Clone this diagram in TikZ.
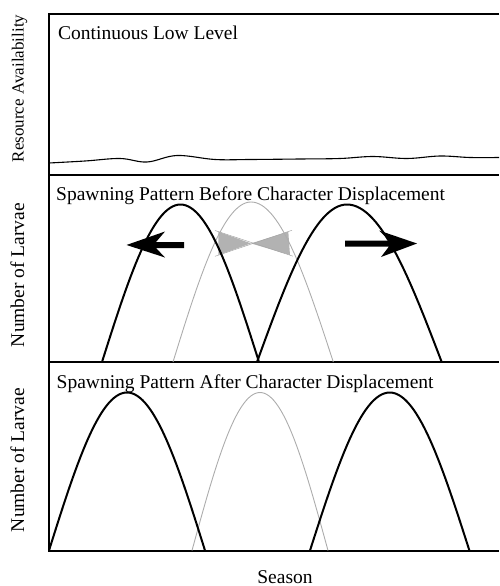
\documentclass[tikz,border=0pt]{standalone}
\usepackage{fontspec}
\setmainfont{Liberation Serif}
\begin{document}
\begin{tikzpicture}[x=1pt,y=-1pt,
  frame/.style={line width=1.3pt},
  blackcurve/.style={line width=2pt, line join=round},
  graycurve/.style={line width=0.9pt, gray!65},
  lbl/.style={font=\fontsize{19.5}{22}\selectfont, inner sep=0pt},
  arrowshape/.style={fill=black, draw=none},
  bowtie/.style={fill=gray!60},
  bowedge/.style={gray!70, line width=0.5pt}]
\useasboundingbox (0,0) rectangle (499,586);

% frame lines
\draw[frame] (499,14) -- (49,14) -- (49,551) -- (499,551);
\draw[frame] (49,175) -- (499,175);
\draw[frame] (49,362) -- (499,362);

% resource availability curve
\draw[line width=1.1pt] plot[smooth, tension=0.6] coordinates {(49,163) (85,161) (120,158.5) (147,162) (177,155.5) (215,159.5) (250,159.5) (300,159) (340,158.5) (373,156.5) (407,158.5) (440,156) (470,157.5) (499,157.5)};

% shaded overlap (bow tie)
\fill[bowtie] (218.3,231.7) -- (251,243.4) -- (288.3,231.7) -- (290,255) -- (251,243.4) -- (218.3,255) -- cycle;
\draw[bowedge] (215,230.5) -- (293,256.2);
\draw[bowedge] (215,256.3) -- (292,230.3);

% middle panel curves
\draw[graycurve] plot[domain=-90:0, samples=31] ({251 + 78*\x/90}, {362 - 160*cos(\x)})
  -- plot[domain=0:90, samples=31] ({251 + 82.3*\x/90}, {362 - 160*cos(\x)});
\draw[blackcurve] plot[domain=-90:90, samples=61] ({180.5 + 78.5*\x/90}, {362 - 157.5*cos(\x)});
\draw[blackcurve] plot[domain=-90:0, samples=31] ({347 + 90*\x/90}, {362 - 157.5*cos(\x)})
  -- plot[domain=0:90, samples=31] ({347 + 94.7*\x/90}, {362 - 157.5*cos(\x)});

% arrows
\fill[arrowshape] (184,242) -- (156,242) -- (165,231.5) -- (126.5,245) -- (165,257.5) -- (156,248) -- (184,248) -- cycle;
\fill[arrowshape] (345,240.5) -- (389,240.5) -- (379,230.5) -- (417,243.5) -- (381,257) -- (389,246.5) -- (345,246.5) -- cycle;

% bottom panel curves
\draw[graycurve] plot[domain=-90:90, samples=61] ({260 + 68*\x/90}, {550.5 - 158*cos(\x)});
\draw[blackcurve] plot[domain=-90:90, samples=61] ({127 + 78*\x/90}, {550.5 - 158*cos(\x)});
\draw[blackcurve] plot[domain=-90:90, samples=61] ({389.7 + 79.7*\x/90}, {550.5 - 158*cos(\x)});

% texts
\node[lbl, anchor=base west] (t1) at (58,40) {Continuous Low Level};
\node[lbl, anchor=base west] (t2) at (56,200.5) {Spawning Pattern Before Character Displacement};
\node[lbl, anchor=base west] (t3) at (56.5,388) {Spawning Pattern After Character Displacement};
\node[lbl, anchor=base] (season) at (285,583) {Season};
\node[lbl, font=\fontsize{17}{20}\selectfont, rotate=90, anchor=base] (yl1) at (23.5,88.5) {Resource Availability};
\node[lbl, rotate=90, anchor=base] (yl2) at (24,275) {Number of Larvae};
\node[lbl, rotate=90, anchor=base] (yl3) at (24,460) {Number of Larvae};
\end{tikzpicture}
\end{document}
